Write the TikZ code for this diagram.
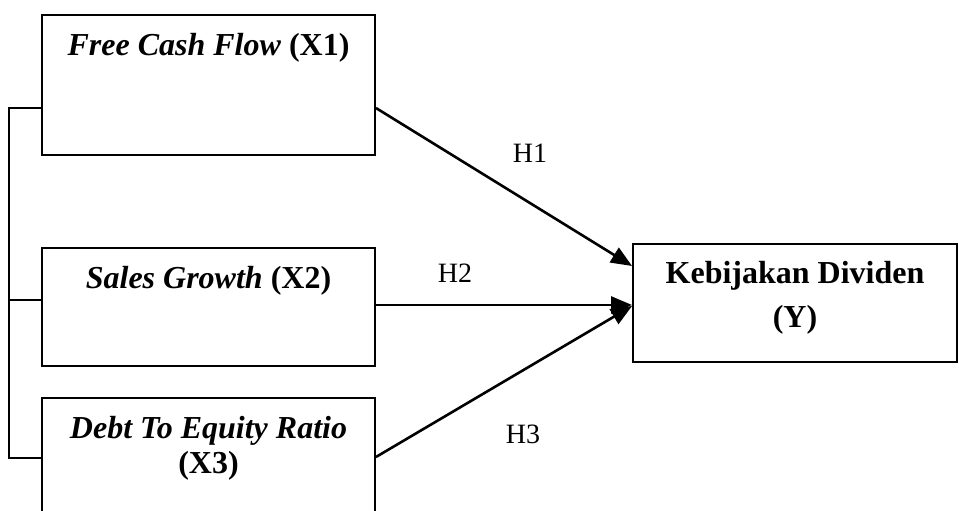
\documentclass[tikz,border=0pt]{standalone}
\usepackage{fontspec}
\setmainfont{Liberation Serif}
\usetikzlibrary{arrows.meta}
\begin{document}
\begin{tikzpicture}[x=1pt,y=-1pt,
  box/.style={draw, line width=1.9pt, rectangle, inner sep=0pt},
  lbl/.style={anchor=base, inner sep=0pt, font=\fontsize{32}{37}\selectfont\bfseries},
  hlbl/.style={anchor=base, inner sep=0pt, font=\fontsize{28}{33}\selectfont},
  arr/.style={line width=2.6pt, -{Triangle[length=21pt,width=17pt]}},
  brk/.style={line width=1.8pt}]
\clip (0,0) rectangle (959,511);
\fill[white] (0,0) rectangle (959,511);
% boxes
\node[box, minimum width=333pt, minimum height=140pt] (x1) at (208.5,85) {};
\node[box, minimum width=333pt, minimum height=118pt] (x2) at (208.5,307) {};
\node[box, minimum width=333pt, minimum height=132pt] (x3) at (208.5,464) {};
\node[box, minimum width=324pt, minimum height=118pt] (y) at (795,303) {};
% texts
\node[lbl] (t1) at (208.5,56) {\textit{Free Cash Flow} (X1)};
\node[lbl] (t2) at (208.5,288) {\textit{Sales Growth} (X2)};
\node[lbl] (t3a) at (208.5,438) {\textit{Debt To Equity Ratio}};
\node[lbl] (t3b) at (208.5,473) {(X3)};
\node[lbl] (ty1) at (795,283) {Kebijakan Dividen};
\node[lbl] (ty2) at (795,327) {(Y)};
% arrows
\draw[arr] ([yshift=-23pt]x1.east) -- ([yshift=37pt]y.west);
\draw[arr] ([yshift=2pt]x2.east) -- ([yshift=-2pt]y.west);
\draw[arr] ([yshift=7pt]x3.east) -- ([yshift=-3pt]y.west);
% hypothesis labels
\node[hlbl] (h1) at (530,162) {H1};
\node[hlbl] (h2) at (455,282) {H2};
\node[hlbl] (h3) at (523,443) {H3};
% bracket
\draw[brk] ([yshift=-23pt]x1.west) -- ++(-32,0) coordinate (bt) -- ([yshift=6pt,xshift=-32pt]x3.west) -- ([yshift=6pt]x3.west);
\draw[brk] ([yshift=7pt]x2.west) -- ++(-31,0);
\end{tikzpicture}
\end{document}
